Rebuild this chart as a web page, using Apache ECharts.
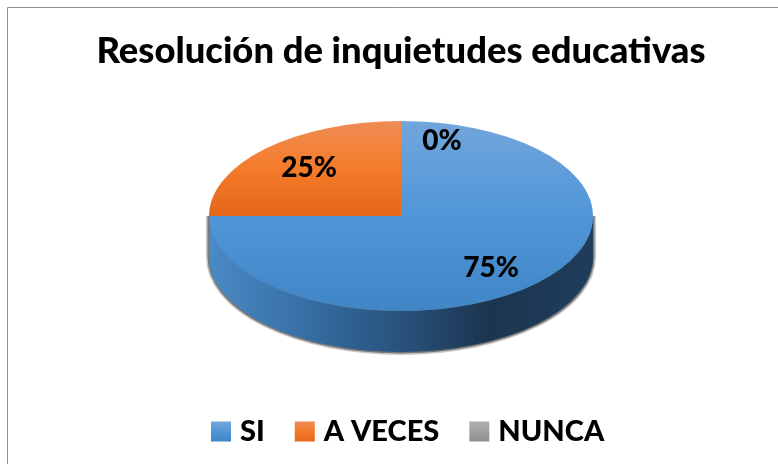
<!DOCTYPE html>
<html>
<head>
<meta charset="utf-8">
<title>Resolución de inquietudes educativas</title>
<script src="https://cdn.jsdelivr.net/npm/echarts@6/dist/echarts.min.js"></script>
<style>
  html, body { margin: 0; padding: 0; background: #fff; }
  #main { width: 778px; height: 464px; }
</style>
</head>
<body>
<div id="main"></div>
<script>
  var titleText = 'Resolución de inquietudes educativas'
  var categories = ['SI', 'A VECES', 'NUNCA']
  var values = [75, 25, 0]

  // geometria de la tarta "3D"
  var cx = 401
  var cy = 216
  var rx = 192
  var ry = 95
  var depth = 41
  var labelOffsets = [[90, 52], [-92, -48], [41, -75]]

  function vGrad (stops) {
    return {
      type: 'linear', x: 0, y: 0, x2: 0, y2: 1,
      colorStops: stops.map(function (c, i) {
        return { offset: i / (stops.length - 1), color: c }
      })
    }
  }

  var topColors = [
    vGrad(['#72a6dc', '#5096d8', '#4085c6']),
    vGrad(['#ee8c54', '#f47b2a', '#e5671a']),
    vGrad(['#aeaeae', '#a0a0a0', '#8f8f8f'])
  ]

  var total = values.reduce(function (a, b) { return a + b }, 0)

  function startOf (index) {
    var sum = 0
    for (var i = 0; i < index; i++) sum += values[i]
    return sum / total * Math.PI * 2 - Math.PI / 2
  }

  function sliceRender (index) {
    return function () {
      return {
        type: 'group',
        children: [
          {
            type: 'sector',
            x: cx,
            y: cy,
            scaleY: ry / rx,
            shape: {
              cx: 0, cy: 0, r0: 0, r: rx,
              startAngle: startOf(index),
              endAngle: startOf(index + 1),
              clockwise: true
            },
            style: { fill: topColors[index] }
          },
          {
            type: 'text',
            x: cx + labelOffsets[index][0],
            y: cy + labelOffsets[index][1],
            z2: 10,
            style: {
              text: Math.round(values[index] / total * 100) + '%',
              font: '900 28px Lato',
              fill: '#000',
              align: 'center',
              verticalAlign: 'middle'
            }
          }
        ]
      }
    }
  }

  // pared lateral, se ve solo la mitad de abajo
  function wallRender () {
    var d = 'M' + (cx - rx) + ' ' + cy +
      ' A' + rx + ' ' + ry + ' 0 0 0 ' + (cx + rx) + ' ' + cy +
      ' L' + (cx + rx) + ' ' + (cy + depth) +
      ' A' + rx + ' ' + ry + ' 0 0 1 ' + (cx - rx) + ' ' + (cy + depth) + ' Z'
    var shape = { pathData: d, x: cx - rx, y: cy, width: rx * 2, height: ry + depth }
    return {
      type: 'group',
      children: [
        // halo gris alrededor de la pared
        {
          type: 'path',
          shape: shape,
          style: { fill: 'none', stroke: 'rgba(0,0,0,0.22)', lineWidth: 6 }
        },
        {
          type: 'path',
          shape: shape,
          style: { fill: 'none', stroke: 'rgba(0,0,0,0.4)', lineWidth: 3 }
        },
        {
          type: 'path',
          shape: shape,
          style: {
            fill: {
              type: 'linear', x: 0, y: 0, x2: 1, y2: 0,
              colorStops: [
                { offset: 0, color: '#4a8ac6' },
                { offset: 0.3, color: '#33699c' },
                { offset: 0.55, color: '#264c73' },
                { offset: 0.72, color: '#1b354f' },
                { offset: 1, color: '#1f3d5b' }
              ]
            }
          }
        }
      ]
    }
  }

  var series = [{
    name: 'pared',
    type: 'custom',
    coordinateSystem: 'none',
    silent: true,
    data: [[0]],
    renderItem: wallRender
  }]
  categories.forEach(function (name, i) {
    series.push({
      name: name,
      type: 'custom',
      coordinateSystem: 'none',
      itemStyle: { color: topColors[i] },
      data: [[values[i]]],
      renderItem: sliceRender(i)
    })
  })

  var myChart = echarts.init(document.getElementById('main'))
  myChart.setOption({
    animation: false,
    title: {
      text: titleText,
      left: 396,
      top: 28,
      textAlign: 'center',
      textStyle: { fontFamily: 'Lato', fontWeight: 900, fontSize: 36.4, color: '#000' }
    },
    legend: {
      data: categories,
      left: 206,
      top: 412,
      icon: 'rect',
      itemWidth: 20,
      itemHeight: 20,
      itemGap: 30,
      selectedMode: false,
      textStyle: { fontFamily: 'Lato', fontWeight: 900, fontSize: 29, color: '#000', padding: [0, 0, 0, 4] }
    },
    graphic: [{
      type: 'rect',
      silent: true,
      shape: { x: 7.5, y: 7.5, width: 800, height: 500 },
      style: { fill: 'none', stroke: '#8f8f8f', lineWidth: 1 }
    }],
    series: series
  })
</script>
</body>
</html>
